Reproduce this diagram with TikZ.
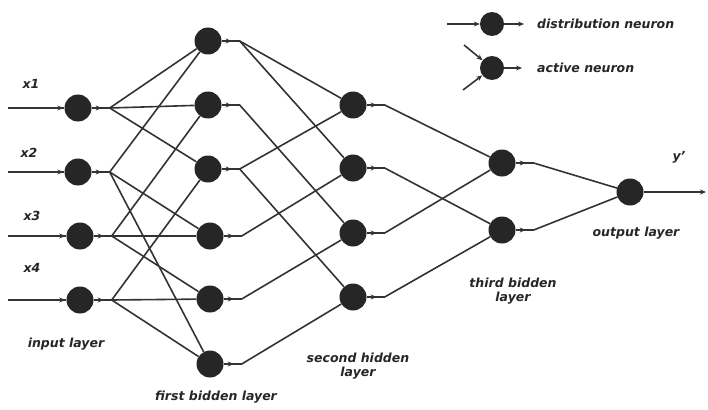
\documentclass[tikz,border=0pt]{standalone}
\usepackage{fontspec}
\setmainfont{DejaVu Sans}
\usetikzlibrary{arrows.meta}
\begin{document}
\begin{tikzpicture}[x=1pt,y=-1pt,
 neuron/.style={circle,fill=black!85,inner sep=0pt,minimum size=27pt},
 conn/.style={draw=black!80,line width=1.6pt},
 tip/.style={-{Stealth[length=6pt,width=5pt]}},
 lbl/.style={font=\bfseries\itshape\fontsize{12.5}{14}\selectfont,text=black!85,align=center,inner sep=0pt}]
\useasboundingbox (0,0) rectangle (708,409);
% nodes
\node[neuron] (i1) at (78,108) {};
\node[neuron] (i2) at (78,172) {};
\node[neuron] (i3) at (80,236) {};
\node[neuron] (i4) at (80,300) {};
\node[neuron] (h1) at (208,41) {};
\node[neuron] (h2) at (208,105) {};
\node[neuron] (h3) at (208,169) {};
\node[neuron] (h4) at (210,236) {};
\node[neuron] (h5) at (210,299) {};
\node[neuron] (h6) at (210,364) {};
\node[neuron] (s1) at (353,105) {};
\node[neuron] (s2) at (353,168) {};
\node[neuron] (s3) at (353,233) {};
\node[neuron] (s4) at (353,297) {};
\node[neuron] (t1) at (502,163) {};
\node[neuron] (t2) at (502,230) {};
\node[neuron] (o) at (630,192) {};
% fan-out points and stubs
\foreach \n in {i1,i2,i3,i4,h1,h2,h3,h4,h5,h6,s1,s2,s3,s4,t1,t2}{
  \coordinate (\n-f) at ([xshift=18pt]\n.east);
  \draw[conn] (\n.east) -- (\n-f);
  \draw[conn,tip] (\n.east) -- ([xshift=10pt]\n.east);
}
% inputs
\foreach \k/\y in {1/108,2/172,3/236,4/300}{
  \coordinate (in\k) at (8,\y);
  \draw[conn] (in\k) -- (i\k);
  \draw[conn,tip] (in\k) -- ([xshift=-1pt]i\k.west);
}
% input -> first hidden
\foreach \a/\b in {i1/h1,i1/h2,i1/h3,i2/h1,i2/h4,i2/h6,i3/h2,i3/h4,i3/h5,i4/h3,i4/h5,i4/h6}{
  \draw[conn] (\a-f) -- (\b);
}
% first hidden -> second hidden
\foreach \a/\b in {h1/s1,h1/s2,h2/s3,h3/s1,h3/s4,h4/s2,h5/s3,h6/s4}{
  \draw[conn] (\a-f) -- (\b);
}
% second hidden -> third hidden
\foreach \a/\b in {s1/t1,s2/t2,s3/t1,s4/t2}{
  \draw[conn] (\a-f) -- (\b);
}
% third hidden -> output
\draw[conn] (t1-f) -- (o);
\draw[conn] (t2-f) -- (o);
\coordinate (yout) at (706,192);
\draw[conn,tip] (o) -- (yout);
% legend
\node[neuron,minimum size=24pt] (L1) at (492,24) {};
\coordinate (L1a) at (447,24);
\coordinate (L1b) at (524,24);
\draw[conn,tip] (L1a) -- (L1);
\draw[conn,tip] (L1) -- (L1b);
\node[neuron,minimum size=24pt] (L2) at (492,68) {};
\coordinate (L2a) at (464,45);
\coordinate (L2c) at (463,90);
\coordinate (L2b) at (522,68);
\draw[conn,tip] (L2a) -- (L2);
\draw[conn,tip] (L2c) -- (L2);
\draw[conn,tip] (L2) -- (L2b);
\node[lbl,anchor=west] (d1) at (537,24) {distribution neuron};
\node[lbl,anchor=west] (d2) at (537,68) {active neuron};
% labels
\node[lbl] (x1) at (31,84) {x1};
\node[lbl] (x2) at (29,153) {x2};
\node[lbl] (x3) at (32,216) {x3};
\node[lbl] (x4) at (32,268) {x4};
\node[lbl] (yl) at (679,157) {y'};
\node[lbl] (il) at (66,344) {input layer};
\node[lbl] (fl) at (216,397) {first bidden layer};
\node[lbl] (sl) at (358,366) {second hidden\\layer};
\node[lbl] (tl) at (513,291) {third bidden\\layer};
\node[lbl] (ol) at (636,233) {output layer};
\end{tikzpicture}
\end{document}
